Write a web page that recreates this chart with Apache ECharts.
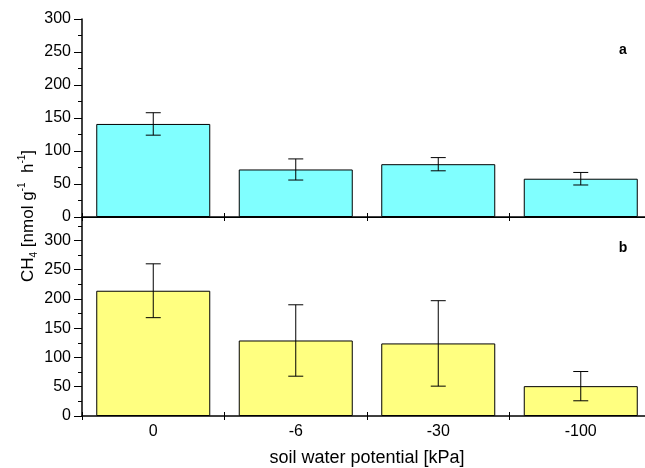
<!DOCTYPE html>
<html>
<head>
<meta charset="utf-8">
<script src="https://cdn.jsdelivr.net/npm/echarts@6/dist/echarts.min.js"></script>
<style>html,body{margin:0;padding:0;background:#fff;overflow:hidden;}#c{width:660px;height:468px;}</style>
</head>
<body>
<div id="c"></div>
<script>
var categories = ['0', '-6', '-30', '-100'];
var topMeans = [141, 72, 80, 58];
var topErr = [17, 16, 10, 9.5];
var bottomMeans = [214, 129, 124, 51];
var bottomErr = [46, 61, 73, 25];
var topTicks = [0, 300, 50];
var bottomTicks = [0, 340, 50];

var FONT = 'Liberation Sans, Arial, sans-serif';
var chart = echarts.init(document.getElementById('c'), null, {renderer: 'canvas', width: 660, height: 468});

function errData(means, errs) {
  return means.map(function (m, i) { return [i, m - errs[i], m + errs[i]]; });
}
function errRender(params, api) {
  var lo = api.coord([api.value(0), api.value(1)]);
  var hi = api.coord([api.value(0), api.value(2)]);
  var hw = 7.5;
  var st = {stroke: '#000', lineWidth: 1, fill: null};
  return {type: 'group', children: [
    {type: 'line', shape: {x1: hi[0], y1: hi[1], x2: lo[0], y2: lo[1]}, style: st},
    {type: 'line', shape: {x1: hi[0] - hw, y1: hi[1], x2: hi[0] + hw, y2: hi[1]}, style: st},
    {type: 'line', shape: {x1: lo[0] - hw, y1: lo[1], x2: lo[0] + hw, y2: lo[1]}, style: st}
  ]};
}
function yAx(gi, t, showMax) {
  return {
    type: 'value', gridIndex: gi, min: t[0], max: t[1], interval: t[2],
    axisLine: {show: true, lineStyle: {color: '#000', width: 1.5}},
    axisTick: {show: true, inside: false, length: 8, lineStyle: {color: '#000', width: 1}},
    minorTick: {show: true, splitNumber: 2, length: 4, lineStyle: {color: '#000', width: 1}},
    splitLine: {show: false},
    axisLabel: {fontSize: 16, fontFamily: FONT, color: '#000', margin: 11, showMaxLabel: showMax}
  };
}
function xAx(gi, showLabel, inside) {
  return {
    type: 'category', gridIndex: gi, data: categories, boundaryGap: true, position: 'bottom',
    axisLine: {show: !inside, onZero: false, lineStyle: {color: '#000', width: 1.5}},
    axisTick: {show: true, inside: inside, length: 4, alignWithLabel: false, lineStyle: {color: '#000', width: 1}},
    axisLabel: {show: showLabel && !inside, fontSize: 16, fontFamily: FONT, color: '#000', margin: 8},
    splitLine: {show: false}
  };
}

var xb = xAx(1, true, false);
xb.name = 'soil water potential [kPa]';
xb.nameLocation = 'middle';
xb.nameGap = 33;
xb.nameTextStyle = {fontSize: 18, fontFamily: FONT, color: '#000'};

var option = {
  animation: false,
  backgroundColor: '#fff',
  grid: [
    {left: 82, top: 19, width: 570, height: 198},
    {left: 82, top: 217, width: 570, height: 199}
  ],
  xAxis: [
    xAx(0, false, false),
    xAx(0, false, true),
    xb,
    xAx(1, false, true),
    {type: 'category', gridIndex: 0, data: categories, position: 'top',
     axisLine: {show: true, lineStyle: {color: '#000', width: 1}}, axisTick: {show: false}, axisLabel: {show: false}}
  ],
  yAxis: [
    yAx(0, topTicks, true),
    yAx(1, bottomTicks, false)
  ],
  series: [
    {type: 'bar', xAxisIndex: 0, yAxisIndex: 0, data: topMeans, barWidth: '80%',
     itemStyle: {color: '#80FFFF', borderColor: '#000', borderWidth: 1}},
    {type: 'custom', xAxisIndex: 0, yAxisIndex: 0, data: errData(topMeans, topErr), renderItem: errRender,
     encode: {x: 0, y: [1, 2]}, z: 5},
    {type: 'bar', xAxisIndex: 2, yAxisIndex: 1, data: bottomMeans, barWidth: '80%',
     itemStyle: {color: '#FFFF80', borderColor: '#000', borderWidth: 1}},
    {type: 'custom', xAxisIndex: 2, yAxisIndex: 1, data: errData(bottomMeans, bottomErr), renderItem: errRender,
     encode: {x: 0, y: [1, 2]}, z: 5}
  ],
  graphic: [
    {type: 'text', x: 28, y: 216, rotation: Math.PI / 2,
     style: {
       text: '{n|CH}{sub|4}{n| [nmol g}{sup|-1}{n|  h}{sup|-1}{n|]}',
       align: 'center', verticalAlign: 'middle', fill: '#000',
       rich: {
         n: {fontSize: 17, fontFamily: FONT, lineHeight: 22, fill: '#000'},
         sub: {fontSize: 10, fontFamily: FONT, lineHeight: 10, verticalAlign: 'bottom', fill: '#000'},
         sup: {fontSize: 10, fontFamily: FONT, lineHeight: 10, verticalAlign: 'top', fill: '#000'}
       }
     }},
    {type: 'text', x: 623, y: 50, style: {text: 'a', fontSize: 14, fontWeight: 'bold', fontFamily: FONT, fill: '#000', align: 'center', verticalAlign: 'middle'}},
    {type: 'text', x: 623, y: 248, style: {text: 'b', fontSize: 14, fontWeight: 'bold', fontFamily: FONT, fill: '#000', align: 'center', verticalAlign: 'middle'}}
  ]
};
chart.setOption(option);
</script>
</body>
</html>
